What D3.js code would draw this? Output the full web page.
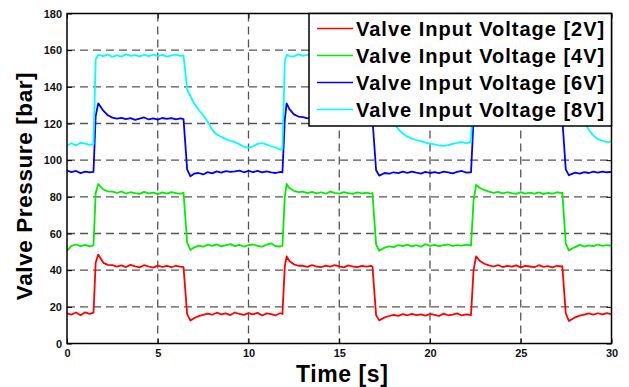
<!DOCTYPE html>
<html>
<head>
<meta charset="utf-8">
<script src="https://cdn.jsdelivr.net/npm/d3@7"></script>
<style>
    body { margin: 0; background: #fff; }
    svg { display: block; }
    text { font-family: Arial, "Liberation Sans", sans-serif; font-weight: bold; }
</style>
</head>
<body>
<div class="chart"></div>
<script>
// Sample times [s]: every 0.25 s, with extra samples at the valve steps (one row per second)
var time = [
    0, 0.25, 0.5, 0.75,
    1, 1.25, 1.46, 1.58, 1.72,
    2, 2.25, 2.5, 2.75,
    3, 3.25, 3.5, 3.75,
    4, 4.25, 4.5, 4.75,
    5, 5.25, 5.5, 5.75,
    6, 6.25, 6.42, 6.62, 6.8,
    7, 7.25, 7.5, 7.75,
    8, 8.25, 8.5, 8.75,
    9, 9.25, 9.5, 9.75,
    10, 10.25, 10.5, 10.75,
    11, 11.25, 11.5, 11.75, 11.87,
    12, 12.1, 12.25, 12.5, 12.75,
    13, 13.25, 13.5, 13.75,
    14, 14.25, 14.5, 14.75,
    15, 15.25, 15.5, 15.75,
    16, 16.25, 16.5, 16.75, 16.83,
    17.03, 17.2, 17.5, 17.75,
    18, 18.25, 18.5, 18.75,
    19, 19.25, 19.5, 19.75,
    20, 20.25, 20.5, 20.75,
    21, 21.25, 21.5, 21.75,
    22, 22.26, 22.4, 22.54, 22.75,
    23, 23.25, 23.5, 23.75,
    24, 24.25, 24.5, 24.75,
    25, 25.25, 25.5, 25.75,
    26, 26.25, 26.5, 26.75,
    27, 27.25, 27.29, 27.48, 27.65,
    28, 28.25, 28.5, 28.75,
    29, 29.25, 29.5, 29.75,
    30
];

// Valve pressure [bar], same rows as time
var pressure2V = [
    16.5, 15.8, 16.9, 15.4,
    17.0, 16.2, 16.8, 44.0, 48.5,
    44.0, 42.9, 42.8, 41.9,
    42.6, 41.7, 42.9, 42.1,
    41.5, 42.7, 42.0, 41.4,
    42.5, 41.8, 42.3, 41.6,
    42.4, 41.9, 41.6, 16.0, 12.5,
    13.8, 14.9, 15.6, 16.3,
    15.7, 16.8, 15.9, 16.4,
    15.5, 16.9, 16.1, 15.6,
    16.6, 15.9, 16.7, 15.3,
    16.4, 16.0, 15.4, 16.5, 16.1,
    42.0, 47.5, 45.0, 43.2, 42.4,
    42.4, 41.8, 42.7, 42.0,
    41.6, 42.5, 41.9, 42.8,
    42.1, 41.5, 42.6, 42.0,
    41.7, 42.4, 41.9, 42.3, 42.0,
    15.5, 12.6, 14.2, 15.0,
    15.6, 15.1, 16.0, 15.4,
    16.2, 15.5, 15.9, 15.2,
    16.1, 15.6, 15.0, 16.3,
    15.4, 15.8, 16.4, 15.3,
    15.9, 15.5, 40.0, 47.5, 45.0,
    43.5, 42.6, 42.0, 42.8,
    41.7, 42.4, 41.9, 42.6,
    41.5, 42.3, 42.0, 41.6,
    42.7, 41.8, 42.2, 41.5,
    42.4, 42.0, 42.2, 16.5, 12.3,
    14.3, 15.2, 15.8, 16.4,
    15.7, 16.5, 15.9, 16.6,
    16.0
];

var pressure4V = [
    50.5, 53.2, 54.0, 53.1,
    53.8, 53.0, 53.5, 82.0, 87.0,
    84.0, 83.0, 82.8, 82.1,
    82.9, 81.8, 82.5, 82.0,
    81.6, 82.7, 81.9, 82.3,
    81.5, 82.4, 81.8, 82.6,
    82.0, 81.7, 82.2, 55.0, 51.0,
    52.3, 53.4, 52.8, 53.9,
    53.2, 54.1, 53.0, 53.6,
    54.2, 53.1, 53.8, 52.9,
    53.6, 54.0, 53.3, 52.8,
    53.9, 54.6, 53.1, 52.9, 53.4,
    80.0, 87.0, 84.8, 83.3, 82.6,
    82.8, 82.0, 82.7, 81.9,
    82.5, 81.7, 82.9, 82.2,
    81.8, 82.6, 82.0, 81.6,
    82.4, 81.9, 82.3, 81.8, 82.1,
    54.0, 50.6, 52.3, 53.0,
    52.6, 53.7, 53.1, 53.9,
    53.0, 53.6, 52.8, 54.2,
    53.3, 53.8, 53.1, 53.6,
    54.0, 53.2, 53.7, 53.4,
    53.9, 53.4, 78.0, 86.5, 84.8,
    83.6, 82.9, 82.2, 82.7,
    81.9, 82.5, 82.0, 81.6,
    82.6, 81.8, 82.3, 81.7,
    82.4, 81.5, 82.1, 81.8,
    82.5, 82.0, 82.3, 54.5, 50.8,
    52.6, 53.8, 52.9, 53.5,
    53.1, 54.0, 53.2, 53.6,
    53.4
];

var pressure6V = [
    94.3, 93.5, 94.1, 92.9,
    93.8, 93.4, 93.6, 124.0, 131.0,
    127.0, 124.5, 123.2, 122.6,
    123.1, 122.4, 122.9, 122.0,
    122.7, 123.3, 122.2, 122.8,
    122.1, 123.0, 122.5, 122.9,
    122.3, 122.8, 122.4, 95.0, 91.2,
    92.6, 93.0, 92.2, 93.5,
    92.8, 93.9, 93.2, 94.0,
    93.6, 93.9, 94.3, 93.4,
    94.1, 93.5, 94.2, 93.3,
    93.9, 93.4, 93.0, 93.6, 93.3,
    122.0, 131.0, 128.0, 125.0, 123.8,
    123.5, 122.8, 123.3, 122.4,
    122.9, 122.2, 123.1, 122.6,
    122.3, 123.0, 122.5, 122.9,
    122.1, 122.8, 122.4, 122.7, 122.5,
    94.5, 91.6, 93.0, 92.6,
    93.4, 92.9, 93.7, 93.1,
    93.8, 93.2, 92.7, 93.6,
    93.0, 93.5, 92.9, 93.7,
    93.3, 92.8, 93.6, 94.1,
    93.2, 93.4, 122.0, 130.0, 126.5,
    124.0, 123.0, 122.6, 123.2,
    122.4, 122.9, 122.1, 122.7,
    123.1, 122.3, 122.8, 122.2,
    122.9, 122.5, 123.0, 122.4,
    122.6, 122.2, 122.5, 95.0, 91.8,
    93.2, 92.7, 93.5, 93.0,
    93.7, 93.2, 93.8, 93.4,
    93.6
];

var pressure8V = [
    108.0, 109.2, 108.1, 109.5,
    109.0, 108.4, 108.8, 155.0, 157.5,
    156.8, 157.6, 156.4, 157.2,
    156.5, 157.8, 156.9, 157.3,
    156.6, 157.5, 156.8, 157.6,
    156.7, 157.4, 156.5, 157.1,
    157.6, 156.9, 157.2, 138.5, 135.0,
    131.0, 127.5, 124.5, 121.0,
    116.5, 114.0, 112.8, 111.5,
    110.6, 109.8, 108.6, 107.3,
    106.8, 107.6, 108.9, 109.3,
    108.5, 107.6, 106.8, 105.8, 106.0,
    154.0, 157.4, 156.8, 156.6, 157.8,
    156.9, 157.5, 156.4, 157.2,
    157.7, 156.6, 157.3, 156.8,
    157.5, 156.7, 157.2, 156.5,
    157.4, 156.8, 157.6, 157.0, 157.3,
    139.0, 135.5, 130.5, 126.5,
    120.5, 117.0, 114.5, 112.8,
    111.8, 111.0, 110.4, 109.6,
    109.0, 108.6, 108.0, 107.8,
    108.2, 108.9, 109.5, 109.8,
    109.3, 110.0, 150.0, 157.0, 157.3,
    156.6, 157.5, 156.9, 157.2,
    156.4, 157.6, 156.8, 157.3,
    156.7, 157.4, 156.5, 157.0,
    157.5, 156.8, 157.2, 156.6,
    157.3, 156.9, 157.2, 139.5, 135.5,
    130.0, 125.5, 121.0, 116.5,
    113.5, 111.5, 110.6, 109.8,
    110.3
];

var seriesNames = [
    "Valve Input Voltage [2V]",
    "Valve Input Voltage [4V]",
    "Valve Input Voltage [6V]",
    "Valve Input Voltage [8V]"
];
var seriesValues = [pressure2V, pressure4V, pressure6V, pressure8V];
var seriesColors = ["#ff0000", "#00ee00", "#0000ff", "#00ffff"];

var xTicks = [0, 5, 10, 15, 20, 25, 30];
var yTicks = [0, 20, 40, 60, 80, 100, 120, 140, 160, 180];

function renderChart() {
    var containerWidth = 629;
    var containerHeight = 387;

    // Plot box, matches the axes frame of the picture
    var margin = {top: 13.5, right: 17.5, bottom: 43.5, left: 67};
    var width = containerWidth - margin.left - margin.right;
    var height = containerHeight - margin.top - margin.bottom;

    var svg = d3.select('.chart').append('svg')
        .attr('width', containerWidth)
        .attr('height', containerHeight);

    var g = svg.append('g')
        .attr('transform', 'translate(' + margin.left + ',' + margin.top + ')');

    var xScale = d3.scaleLinear().domain([0, 30]).range([0, width]);
    var yScale = d3.scaleLinear().domain([0, 180]).range([height, 0]);

    // Dashed grid
    var grid = g.append('g').attr('class', 'grid');
    grid.selectAll('line.vgrid')
        .data(xTicks.slice(1, -1))
        .enter().append('line')
        .attr('class', 'vgrid')
        .attr('x1', function(d) { return xScale(d); })
        .attr('x2', function(d) { return xScale(d); })
        .attr('y1', 0)
        .attr('y2', height);
    grid.selectAll('line.hgrid')
        .data(yTicks.slice(1, -1))
        .enter().append('line')
        .attr('class', 'hgrid')
        .attr('x1', 0)
        .attr('x2', width)
        .attr('y1', function(d) { return yScale(d); })
        .attr('y2', function(d) { return yScale(d); });
    grid.selectAll('line')
        .attr('stroke', '#555')
        .attr('stroke-width', 1.3)
        .attr('stroke-dasharray', '8,5');

    // Clip traces to the plot box
    svg.append('clipPath').attr('id', 'plot-clip')
        .append('rect').attr('width', width).attr('height', height);

    var line = d3.line()
        .x(function(d, i) { return xScale(time[i]); })
        .y(function(d) { return yScale(d); });

    g.append('g')
        .attr('clip-path', 'url(#plot-clip)')
        .selectAll('path')
        .data(seriesValues)
        .enter().append('path')
        .attr('fill', 'none')
        .attr('stroke', function(d, i) { return seriesColors[i]; })
        .attr('stroke-width', 1.8)
        .attr('stroke-linejoin', 'round')
        .attr('d', line);

    // Axes with inward ticks (MATLAB style), labels only on bottom/left
    var xAxis = d3.axisBottom(xScale).tickValues(xTicks).tickSize(-5).tickPadding(6).tickFormat(d3.format('d'));
    var yAxis = d3.axisLeft(yScale).tickValues(yTicks).tickSize(-5).tickPadding(5).tickFormat(d3.format('d'));

    var xAxisGroup = g.append('g')
        .attr('transform', 'translate(0,' + height + ')')
        .call(xAxis);
    var yAxisGroup = g.append('g').call(yAxis);

    g.append('g').call(d3.axisTop(xScale).tickValues(xTicks).tickSize(-5).tickFormat(''));
    g.append('g').attr('transform', 'translate(' + width + ',0)')
        .call(d3.axisRight(yScale).tickValues(yTicks).tickSize(-5).tickFormat(''));

    g.selectAll('.domain').remove();
    g.selectAll('.tick line').attr('stroke', '#000').attr('stroke-width', 1);
    xAxisGroup.selectAll('text').attr('font-size', 11).attr('fill', '#111');
    yAxisGroup.selectAll('text').attr('font-size', 11).attr('fill', '#111');

    // Frame
    g.append('rect')
        .attr('width', width)
        .attr('height', height)
        .attr('fill', 'none')
        .attr('stroke', '#000')
        .attr('stroke-width', 1.5);

    // Axis titles
    svg.append('text')
        .attr('x', margin.left + width / 2 + 3)
        .attr('y', 382)
        .attr('text-anchor', 'middle')
        .attr('font-size', 23)
        .attr('letter-spacing', 0.6)
        .attr('fill', '#000')
        .text('Time [s]');

    svg.append('text')
        .attr('transform', 'translate(32,186) rotate(-90)')
        .attr('text-anchor', 'middle')
        .attr('font-size', 22.5)
        .attr('letter-spacing', 0.6)
        .attr('fill', '#000')
        .text('Valve Pressure [bar]');

    // Legend in the top right corner
    var legendLeft = 309 - margin.left;
    var legendWidth = width - legendLeft;
    var legendHeight = 112.5;
    var legend = g.append('g');

    legend.append('rect')
        .attr('x', legendLeft)
        .attr('y', 0)
        .attr('width', legendWidth)
        .attr('height', legendHeight)
        .attr('fill', '#fff')
        .attr('stroke', '#000')
        .attr('stroke-width', 1.5);

    var rowY = d3.scalePoint().domain(d3.range(seriesNames.length)).range([15, 96]);

    var rows = legend.selectAll('g.row')
        .data(seriesNames)
        .enter().append('g')
        .attr('class', 'row')
        .attr('transform', function(d, i) { return 'translate(' + legendLeft + ',' + rowY(i) + ')'; });

    rows.append('line')
        .attr('x1', 8)
        .attr('x2', 44)
        .attr('stroke', function(d, i) { return seriesColors[i]; })
        .attr('stroke-width', 1.5);

    rows.append('text')
        .attr('x', 47)
        .attr('y', 7.5)
        .attr('font-size', 20)
        .attr('letter-spacing', 1.0)
        .attr('fill', '#000')
        .text(function(d) { return d; });
}

renderChart();
</script>
</body>
</html>
